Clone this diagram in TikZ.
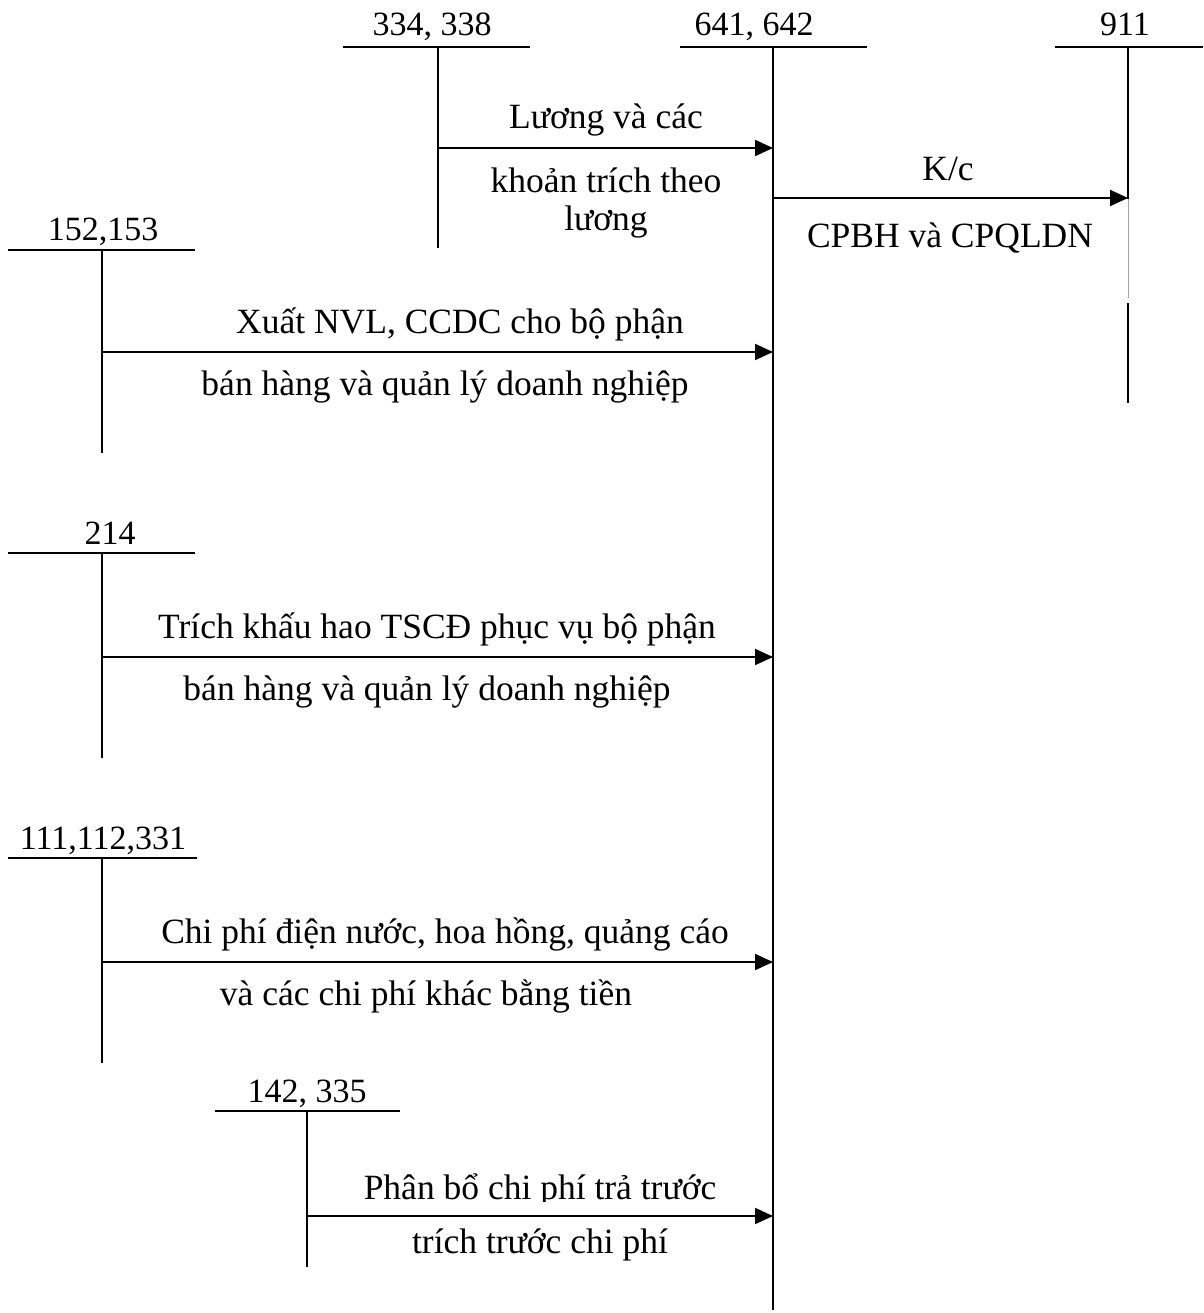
\documentclass[tikz,border=0pt]{standalone}
\usepackage{fontspec}
\setmainfont{Liberation Serif}
\usetikzlibrary{arrows.meta}
\begin{document}
\begin{tikzpicture}[x=1pt,y=-1pt,
  acct/.style={line width=2pt},
  flow/.style={line width=2pt,-{Triangle[length=18pt,width=16pt]}},
  lbl/.style={inner sep=0pt,anchor=base,font=\fontsize{34}{40}\selectfont},
  txt/.style={inner sep=0pt,anchor=base,font=\fontsize{35.5}{42}\selectfont}]
\useasboundingbox (0,0) rectangle (1203,1313);
% ---- account T shapes
% 334,338
\node[lbl] (n334) at (432,36) {334, 338};
\coordinate (h334l) at (343,47); \coordinate (h334r) at (530,47);
\coordinate (v334t) at (438,47); \coordinate (v334b) at (438,248);
\draw[acct] (h334l) -- (h334r);
\draw[acct] (v334t) -- (v334b);
% 641,642
\node[lbl] (n641) at (754,36) {641, 642};
\coordinate (h641l) at (680,47); \coordinate (h641r) at (867,47);
\coordinate (v641t) at (773,47); \coordinate (v641b) at (773,1310);
\draw[acct] (h641l) -- (h641r);
\draw[acct] (v641t) -- (v641b);
% 911
\node[lbl] (n911) at (1125,36) {911};
\coordinate (h911l) at (1055,47); \coordinate (h911r) at (1203,47);
\coordinate (v911t) at (1128,47); \coordinate (v911m) at (1128,199);
\coordinate (v911g) at (1128,298); \coordinate (v911c) at (1128,303);
\coordinate (v911b) at (1128,403);
\draw[acct] (h911l) -- (h911r);
\draw[acct] (v911t) -- (v911m);
\draw[line width=1pt,black!35] (v911m) -- (v911g);
\draw[acct] (v911c) -- (v911b);
% 152,153
\node[lbl] (n152) at (103,241) {152,153};
\coordinate (h152l) at (8,250); \coordinate (h152r) at (195,250);
\coordinate (v152t) at (102,250); \coordinate (v152b) at (102,453);
\draw[acct] (h152l) -- (h152r);
\draw[acct] (v152t) -- (v152b);
% 214
\node[lbl] (n214) at (110,544) {214};
\coordinate (h214l) at (8,553); \coordinate (h214r) at (195,553);
\coordinate (v214t) at (102,553); \coordinate (v214b) at (102,758);
\draw[acct] (h214l) -- (h214r);
\draw[acct] (v214t) -- (v214b);
% 111,112,331
\node[lbl] (n111) at (103,849) {111,112,331};
\coordinate (h111l) at (8,858); \coordinate (h111r) at (197,858);
\coordinate (v111t) at (102,858); \coordinate (v111b) at (102,1063);
\draw[acct] (h111l) -- (h111r);
\draw[acct] (v111t) -- (v111b);
% 142,335
\node[lbl] (n142) at (307,1102) {142, 335};
\coordinate (h142l) at (215,1111); \coordinate (h142r) at (400,1111);
\coordinate (v142t) at (307,1111); \coordinate (v142b) at (307,1267);
\draw[acct] (h142l) -- (h142r);
\draw[acct] (v142t) -- (v142b);
% ---- flows
\coordinate (a1s) at (438,148); \coordinate (a1e) at (773,148);
\draw[flow] (a1s) -- (a1e);
\node[txt] (t1a) at (606,129) {Lương và các};
\node[txt] (t1b) at (606,193) {khoản trích theo};
\node[txt] (t1c) at (606,231) {lương};
\coordinate (a2s) at (773,198); \coordinate (a2e) at (1128,198);
\draw[flow] (a2s) -- (a2e);
\node[txt] (t2a) at (948,181) {K/c};
\node[txt] (t2b) at (950,248) {CPBH và CPQLDN};
\coordinate (a3s) at (102,352); \coordinate (a3e) at (773,352);
\draw[flow] (a3s) -- (a3e);
\node[txt] (t3a) at (460,333) {Xuất NVL, CCDC cho bộ phận};
\node[txt] (t3b) at (445,395) {bán hàng và quản lý doanh nghiệp};
\coordinate (a4s) at (102,657); \coordinate (a4e) at (773,657);
\draw[flow] (a4s) -- (a4e);
\node[txt] (t4a) at (437,638) {Trích khấu hao TSCĐ phục vụ bộ phận};
\node[txt] (t4b) at (427,700) {bán hàng và quản lý doanh nghiệp};
\coordinate (a5s) at (102,962); \coordinate (a5e) at (773,962);
\draw[flow] (a5s) -- (a5e);
\node[txt] (t5a) at (445,943) {Chi phí điện nước, hoa hồng, quảng cáo};
\node[txt] (t5b) at (426,1005) {và các chi phí khác bằng tiền};
\coordinate (a6s) at (307,1216); \coordinate (a6e) at (773,1216);
\draw[flow] (a6s) -- (a6e);
\begin{scope}
\clip (300,1150) rectangle (770,1201);
\node[txt] (t6a) at (540,1199) {Phân bổ chi phí trả trước};
\end{scope}
\node[txt] (t6b) at (540,1253) {trích trước chi phí};
\end{tikzpicture}
\end{document}
